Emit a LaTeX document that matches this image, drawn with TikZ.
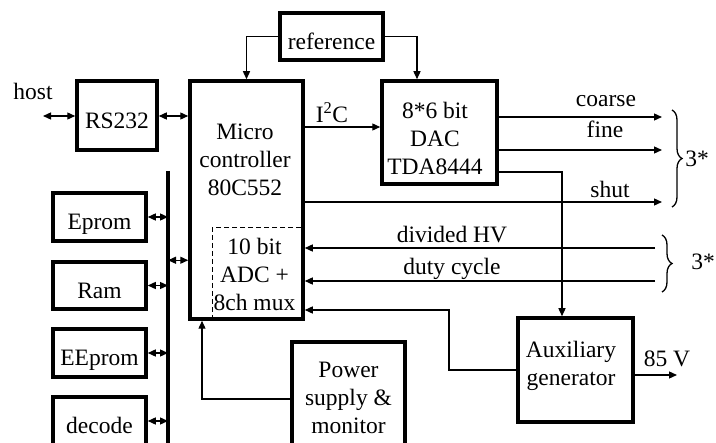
\documentclass[tikz,border=0pt]{standalone}
\usepackage{fontspec}
\setmainfont{Liberation Serif}
\usetikzlibrary{arrows.meta, decorations.pathreplacing}

\begin{document}
\begin{tikzpicture}[
  x=1pt, y=-1pt,
  font=\fontsize{23.5}{28}\selectfont,
  box/.style={draw, line width=3.5pt, inner sep=0pt},
  oneline/.style={text height=25.5pt, text depth=0pt},
  adcbox/.style={draw, dashed, line width=1pt, dash pattern=on 5pt off 3pt},
  txt/.style={align=center, inner sep=0pt},
  lbl/.style={anchor=base, inner sep=0pt},
  arr/.style={-{Triangle[length=8pt, width=7pt]}, line width=1.3pt},
  darr/.style={{Triangle[length=8pt, width=7pt]}-{Triangle[length=8pt, width=7pt]}, line width=1.3pt},
  bus/.style={line width=3.5pt},
  brc/.style={decorate, decoration={brace, amplitude=10pt}, line width=1.3pt}
]
  \useasboundingbox (0,0) rectangle (716,443);
  \clip (0,0) rectangle (716,443);

  \node[box, oneline, minimum width=103pt, minimum height=47pt] (ref) at (331.5,36.5) {reference};
  \node[box, oneline, minimum width=80pt, minimum height=69pt]  (rs)  at (117,115.5) {RS232};
  \node[adcbox, minimum width=91pt, minimum height=91pt]        (adc) at (257.5,273.5) {};
  \node[box, minimum width=113pt, minimum height=238pt]         (mc)  at (246.5,200) {};
  \node[txt] (mctext)  at (245,160)     {Micro\\controller\\80C552};
  \node[txt] (adctext) at (254.5,274.3) {10 bit\\ADC +\\8ch mux};
  \node[box, minimum width=115pt, minimum height=103pt]         (dac) at (439.5,132.5) {};
  \node[txt] (dactext) at (435,138)     {8*6 bit\\DAC\\TDA8444};

  \node[box, oneline, minimum width=93pt, minimum height=48pt] (eprom)  at (99.5,217)   {Eprom};
  \node[box, oneline, minimum width=93pt, minimum height=47pt] (ram)    at (99.5,285.5) {Ram};
  \node[box, oneline, minimum width=93pt, minimum height=48pt] (eeprom) at (99.5,353)   {EEprom};
  \node[box, oneline, minimum width=93pt, minimum height=48pt] (decode) at (99.5,421)   {decode};

  \node[box, minimum width=113pt, minimum height=114pt] (pwr) at (348.5,399) {};
  \node[txt] (pwrtext) at (348.5,397.7) {Power\\supply \&\\monitor};
  \node[box, minimum width=115pt, minimum height=104pt] (aux) at (575.5,370) {};
  \node[txt] (auxtext) at (571,365.4)   {Auxiliary\\generator};

  \coordinate (hostend)   at (43,116);
  \coordinate (bustop)    at (168,171);
  \coordinate (busbot)    at (168,450);
  \coordinate (coarseout) at (662,117);
  \coordinate (fineout)   at (662,150);
  \coordinate (shutout)   at (662,202);
  \coordinate (hvin)      at (655,248);
  \coordinate (dcin)      at (655,281);
  \coordinate (vout)      at (677,375);

  \node[lbl] (hostlbl)   at (33,100)  {host};
  \node[lbl] (i2clbl)    at (332,123) {I\textsuperscript{2}C};
  \node[lbl] (coarselbl) at (606,107) {coarse};
  \node[lbl] (finelbl)   at (605,138) {fine};
  \node[lbl] (shutlbl)   at (610,198) {shut};
  \node[lbl] (hvlbl)     at (452,243) {divided HV};
  \node[lbl] (dutylbl)   at (452,275) {duty cycle};
  \node[lbl] (vlbl)      at (667,367) {85 V};
  \node[lbl] (threea)    at (697,167) {3*};
  \node[lbl] (threeb)    at (703,270) {3*};

  \draw[darr] (hostend) -- (hostend -| rs.west);
  \draw[darr] (hostend -| rs.east) -- (hostend -| mc.west);
  \draw[arr] (ref.west) -| (mc.north);
  \draw[arr] (ref.east) -| ([xshift=-22.5pt]dac.north);
  \draw[arr] (mc.east |- 0,127) -- (dac.west |- 0,127);
  \draw[arr] (dac.east |- coarseout) -- (coarseout);
  \draw[arr] (dac.east |- fineout) -- (fineout);
  \draw[arr] (mc.east |- shutout) -- (shutout);
  \draw[arr] (dac.east |- 0,172) -| ([xshift=-13.5pt]aux.north);
  \draw[arr] (hvin) -- (mc.east |- hvin);
  \draw[arr] (dcin) -- (mc.east |- dcin);
  \draw[arr] (aux.west) -| (449,310) -- (mc.east |- 0,310);
  \draw[arr] (pwr.west) -| ([xshift=-44.5pt]mc.south);
  \draw[arr] ([yshift=-5pt]aux.east) -- (vout);

  \draw[bus] (bustop) -- (busbot);
  \draw[darr] (eprom.east) -- (eprom.east -| bustop);
  \draw[darr] (ram.east) -- (ram.east -| bustop);
  \draw[darr] (eeprom.east) -- (eeprom.east -| bustop);
  \draw[darr] (decode.east) -- (decode.east -| bustop);
  \draw[darr] (bustop |- ram.north) -- (mc.west |- ram.north);

  \draw[brc] (672,110) -- (672,207);
  \draw[brc] (662,235) -- (662,292);
\end{tikzpicture}
\end{document}
